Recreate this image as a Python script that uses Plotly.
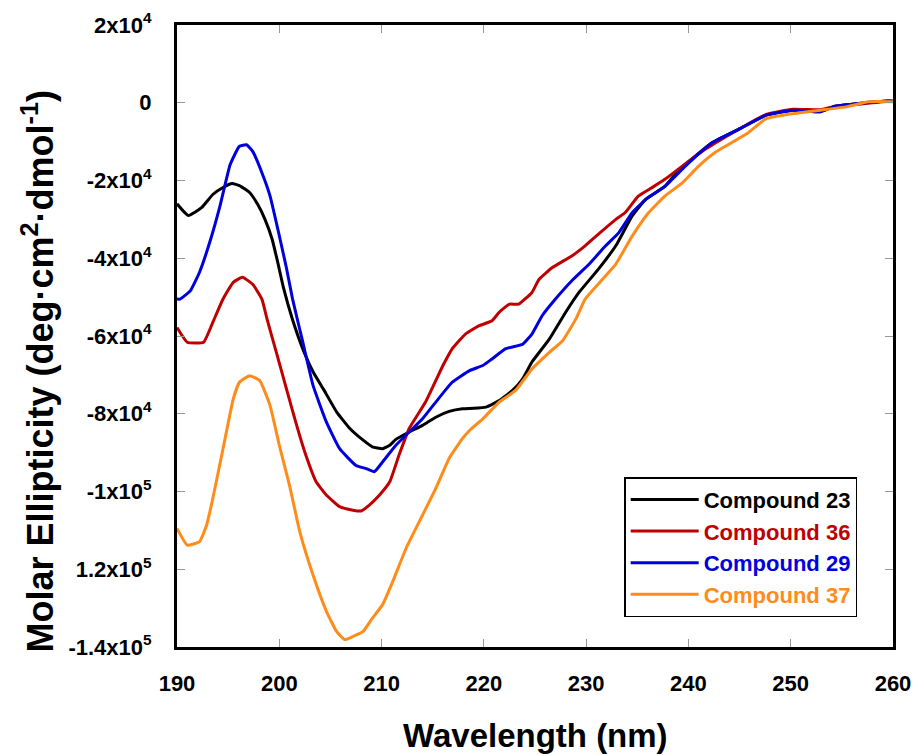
import plotly.graph_objects as go

# ---------------- data ----------------
wl_23 = [190.0, 191.1, 192.4, 193.5, 194.5, 195.4, 196.1, 197.1, 197.9, 198.6, 199.3, 199.8,
         200.4, 201.3, 202.3, 203.3, 204.3, 205.6, 206.9, 208.2, 209.1, 210.1, 210.8, 211.4,
         212.7, 214.0, 215.3, 216.6, 217.9, 219.0, 220.2, 221.5, 222.8, 223.8, 224.7, 226.4,
         228.0, 229.3, 231.2, 232.9, 234.5, 235.8, 237.7, 239.0, 242.3, 245.0, 247.6, 250.2,
         252.9, 254.2, 256.9, 259.5, 260.0]
me_23 = [-26000, -29000, -27000, -23600, -21800, -20800, -21300, -23100, -26200, -30000, -35100, -40500,
         -47500, -55800, -63300, -69200, -73600, -79500, -83800, -86800, -88500, -89000, -88100, -86600,
         -84700, -83000, -80900, -79400, -78700, -78600, -78300, -76600, -74000, -71000, -66700, -60800,
         -53900, -48800, -42800, -36800, -29100, -24900, -21500, -17500, -10300, -6700, -3200, -1900,
         -2300, -1000, -150, 430, 400]

wl_36 = [190.0, 191.0, 192.6, 193.5, 194.5, 195.5, 196.4, 197.4, 198.3, 198.8, 199.7, 200.7,
         201.7, 202.6, 203.6, 204.6, 205.9, 207.2, 208.0, 208.8, 209.8, 210.8, 211.7, 212.7,
         214.3, 216.0, 216.9, 218.2, 219.5, 220.8, 221.5, 222.5, 223.4, 224.7, 225.4, 226.7,
         228.6, 229.9, 231.2, 232.9, 233.8, 235.1, 236.4, 237.7, 239.4, 241.6, 244.0, 247.6,
         250.2, 252.9, 254.2, 256.9, 259.5, 260.0]
me_36 = [-57800, -61600, -61600, -56500, -50500, -46200, -44900, -46700, -50500, -55600, -64100, -73600,
         -83000, -90700, -97500, -100900, -103900, -104800, -105000, -103500, -100900, -97500, -90700, -83800,
         -77000, -67600, -63300, -59500, -57400, -56100, -53900, -51800, -51800, -48800, -45400, -42400,
         -39400, -36800, -33800, -30000, -28300, -24000, -21900, -19700, -16300, -12050, -8200, -3000,
         -1700, -1800, -1000, -300, 400, 400]

wl_29 = [190.0, 190.3, 191.3, 192.2, 193.2, 194.2, 195.2, 196.1, 196.8, 197.4, 198.3, 199.1,
         199.9, 200.7, 201.3, 202.3, 203.3, 204.6, 205.9, 207.5, 208.5, 209.3, 210.1, 211.4,
         212.7, 214.0, 215.3, 216.9, 218.6, 219.9, 220.8, 222.1, 223.8, 224.7, 225.7, 227.0,
         228.6, 230.3, 231.9, 233.2, 234.5, 235.8, 237.7, 239.7, 242.3, 245.0, 247.6, 250.2,
         252.9, 254.2, 256.9, 259.5, 260.0]
me_29 = [-50500, -50500, -48400, -43600, -35900, -26600, -15900, -11200, -10800, -12500, -18000, -24000,
         -33000, -42500, -50500, -61600, -72700, -82100, -89000, -93300, -94100, -94900, -92400, -88100,
         -84700, -81300, -77000, -71900, -68900, -67600, -65900, -63300, -62100, -59500, -54800, -50500,
         -45800, -41500, -36800, -33400, -28300, -24900, -21500, -16300, -10300, -6700, -3200, -1900,
         -2300, -1000, -150, 430, 400]

wl_37 = [190.0, 191.0, 192.2, 192.9, 193.5, 194.5, 195.5, 196.1, 197.1, 198.1, 199.1, 200.0,
         201.0, 202.0, 203.3, 204.6, 205.6, 206.4, 207.2, 208.2, 209.1, 210.1, 211.1, 212.4,
         214.0, 215.3, 216.6, 217.9, 218.6, 219.9, 221.5, 223.1, 224.7, 226.4, 227.7, 229.0,
         229.9, 231.6, 232.9, 234.5, 236.1, 237.7, 239.4, 241.0, 242.6, 245.7, 247.6, 250.2,
         252.9, 255.5, 257.6, 260.0]
me_37 = [-109500, -113800, -112900, -108600, -101800, -89000, -76200, -71900, -70200, -71500, -77900, -88100,
         -98400, -110300, -121500, -130800, -136000, -138100, -137300, -136000, -132600, -129100, -123100, -114600,
         -106100, -99200, -91500, -86400, -84300, -81300, -77000, -74000, -68500, -64200, -61200, -55600,
         -50500, -45400, -41500, -34300, -28300, -24000, -20600, -16300, -12800, -8000, -4100, -2800,
         -1900, -1000, 250, 250]

names = ["Compound 23", "Compound 36", "Compound 29", "Compound 37"]
colors = ["#000000", "#C00000", "#0000DD", "#FF8C1A"]
series_x = [wl_23, wl_36, wl_29, wl_37]
series_y = [me_23, me_36, me_29, me_37]

y_tickvals = [20000, 0, -20000, -40000, -60000, -80000, -100000, -120000, -140000]
y_ticktext = ["2x10<sup>4</sup>", "0", "-2x10<sup>4</sup>", "-4x10<sup>4</sup>", "-6x10<sup>4</sup>",
              "-8x10<sup>4</sup>", "-1x10<sup>5</sup>", "1.2x10<sup>5</sup>", "-1.4x10<sup>5</sup>"]
x_tickvals = [190, 200, 210, 220, 230, 240, 250, 260]

# ---------------- figure ----------------
fig = go.Figure()
for nm, col, xs, ys in zip(names, colors, series_x, series_y):
    fig.add_trace(go.Scatter(
        x=xs, y=ys, mode="lines", line=dict(color=col, width=3, shape="spline", smoothing=0.4),
        name=f"<span style='color:{col}'>{nm}</span>", legendgroup=nm,
    ))

bold = "Liberation Sans, Arial, sans-serif"

fig.update_layout(
    width=915, height=755,
    margin=dict(l=177, r=22, t=25, b=108, autoexpand=False),
    paper_bgcolor="white", plot_bgcolor="white",
    showlegend=True,
    legend=dict(
        x=0.95, y=0.048, xanchor="right", yanchor="bottom",
        bgcolor="white", bordercolor="black", borderwidth=1.5,
        font=dict(family=bold, size=22, color="black", weight="bold"),
        tracegroupgap=0, itemwidth=68,
    ),
    xaxis=dict(
        range=[190, 260], tickvals=x_tickvals, ticks="inside", ticklen=8, tickwidth=1,
        tickcolor="#999999", showline=True, linecolor="black", linewidth=3, mirror="ticks",
        showgrid=False, zeroline=False, automargin=False,
        tickfont=dict(family=bold, size=22, color="black", weight="bold"),
        ticklabelstandoff=15,
    ),
    yaxis=dict(
        range=[-140000, 20000], tickvals=y_tickvals, ticktext=y_ticktext, ticks="inside",
        ticklen=8, tickwidth=1, tickcolor="#999999", showline=True, linecolor="black",
        linewidth=3, mirror="ticks", showgrid=False, zeroline=False, automargin=False,
        tickfont=dict(family=bold, size=22, color="black", weight="bold"),
        ticklabelstandoff=18,
    ),
    annotations=[
        dict(text="Molar Ellipticity (deg·cm<sup>2</sup>·dmol<sup>-1</sup>)", textangle=-90,
             xref="paper", yref="paper", x=-0.194, y=0.443, xanchor="center", yanchor="middle",
             showarrow=False, font=dict(family=bold, size=36, color="black", weight="bold")),
        dict(text="Wavelength (nm)", xref="paper", yref="paper", x=0.5, y=-0.1415,
             xanchor="center", yanchor="middle", showarrow=False,
             font=dict(family=bold, size=33, color="black", weight="bold")),
    ],
)

fig.write_html("out.html")
